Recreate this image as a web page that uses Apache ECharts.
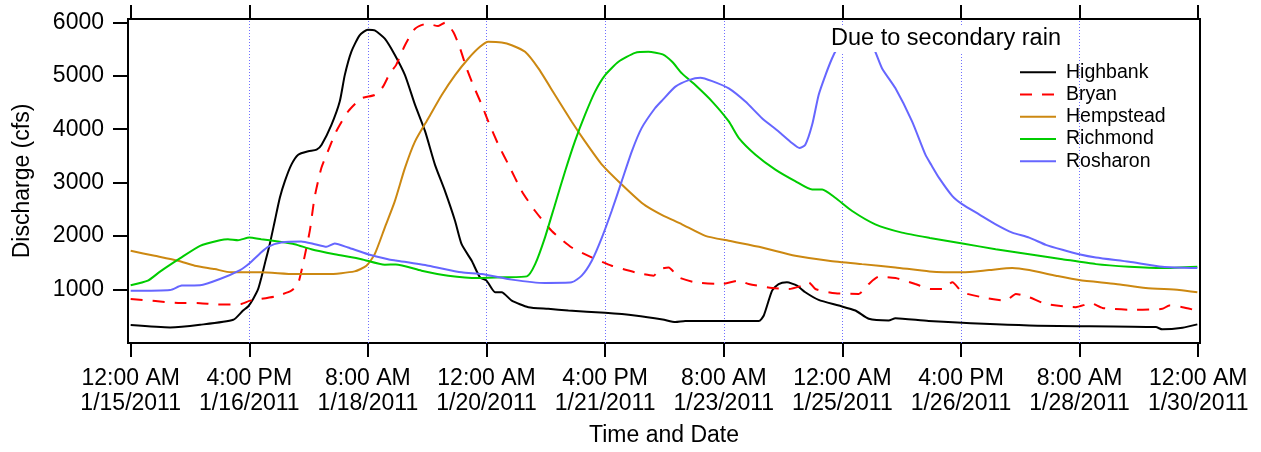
<!DOCTYPE html>
<html>
<head>
<meta charset="utf-8">
<script src="https://cdn.jsdelivr.net/npm/echarts@6/dist/echarts.min.js"></script>
<style>
  html, body { margin: 0; padding: 0; background: #fff; }
  #chart { width: 1261px; height: 452px; }
</style>
</head>
<body>
<div id="chart"></div>
<script>
// Time is measured in hours after 12:00 AM 1/15/2011; discharge in cfs.
const tickHours = [0, 40, 80, 120, 160, 200, 240, 280, 320, 360];
const tickLabels = [
  '12:00 AM\n1/15/2011', '4:00 PM\n1/16/2011', '8:00 AM\n1/18/2011',
  '12:00 AM\n1/20/2011', '4:00 PM\n1/21/2011', '8:00 AM\n1/23/2011',
  '12:00 AM\n1/25/2011', '4:00 PM\n1/26/2011', '8:00 AM\n1/28/2011',
  '12:00 AM\n1/30/2011'
];
const gridHours = [40, 80, 120, 160, 200, 240, 280, 320];
const yTicks = [1000, 2000, 3000, 4000, 5000, 6000];

const highbankHours = [0, 13.3, 23.4, 34.6, 37.9, 39.6, 41.3, 43, 44.1, 45.2, 46.9, 48.6, 50.3, 52, 54.2, 56.5, 59.9, 62.7, 64.4, 67.7, 70.5, 72.2, 74.4, 77.2, 80, 82.3, 85.7, 89, 92.5, 95.9, 99.3, 102.6, 106, 109.4, 111.6, 115, 117.8, 120, 122.9, 125.1, 128.5, 134.1, 140.8, 147.6, 160, 170, 179.4, 183.7, 187, 199.4, 211.8, 213.5, 216.3, 218.5, 221.3, 224.7, 227.5, 232, 238.8, 244.4, 248.9, 255.6, 257.9, 269.1, 303, 345.7, 347.9, 354.7, 359.7];
const highbankFlow = [335, 292, 341, 434, 608, 683, 825, 1011, 1229, 1476, 1849, 2284, 2718, 3029, 3338, 3524, 3587, 3617, 3710, 4082, 4518, 5013, 5449, 5758, 5864, 5851, 5696, 5400, 5013, 4455, 3959, 3338, 2842, 2284, 1849, 1539, 1229, 1167, 949, 949, 794, 670, 639, 608, 565, 515, 440, 391, 410, 410, 410, 515, 980, 1104, 1135, 1073, 949, 806, 701, 608, 453, 422, 465, 410, 329, 298, 255, 285, 348];

const bryanHours = [0, 16, 23.4, 29.4, 37.3, 40, 41.8, 48.6, 54.2, 56.4, 58.1, 60.4, 62, 64.3, 66.5, 69.3, 73.3, 77.8, 82.3, 85.1, 87.4, 89.5, 92.5, 95.9, 99.8, 103.7, 106, 108.8, 111.1, 113.3, 115.5, 118.4, 120.6, 124, 127.4, 131.9, 136.4, 142, 148.7, 155.5, 162.2, 170.1, 176.3, 178.5, 181.4, 184.8, 190.4, 199.4, 205.1, 208.4, 216.3, 221.9, 226.4, 228.7, 230.9, 237.6, 245.5, 248.9, 252.3, 257.9, 264.6, 269.7, 273.7, 277.1, 280.5, 287.2, 295.1, 298.5, 303, 308.6, 318.7, 323.8, 327.7, 339, 347.9, 350.2, 354.7, 358.6];
const bryanFlow = [825, 750, 745, 720, 732, 788, 806, 868, 980, 1104, 1476, 2097, 2718, 3276, 3587, 3959, 4332, 4579, 4641, 4797, 5045, 5200, 5572, 5882, 5975, 5932, 5994, 5820, 5510, 5138, 4827, 4455, 4146, 3710, 3338, 2842, 2470, 2097, 1787, 1601, 1446, 1322, 1260, 1383, 1415, 1229, 1135, 1104, 1167, 1104, 1029, 1011, 1073, 1135, 1011, 931, 918, 1104, 1241, 1216, 1104, 1011, 1011, 1135, 949, 856, 794, 918, 856, 732, 670, 745, 657, 620, 639, 701, 670, 620];

const hempsteadHours = [0, 8.1, 16, 21.6, 28.3, 33.9, 44, 55.3, 66.5, 75.5, 79.5, 82.3, 85.7, 89, 92.5, 95.9, 100.4, 104.9, 109.4, 113.9, 117.8, 120.6, 125.1, 128.5, 133, 137.5, 143.1, 148.7, 153.2, 158.9, 165.6, 172.3, 175.7, 179.4, 185.9, 193.8, 201.7, 212.9, 224.1, 235.4, 246.6, 257.9, 269.4, 280.5, 289.5, 297.3, 303, 312, 319.8, 332.2, 342.3, 353.6, 359.7];
const hempsteadFlow = [1725, 1632, 1539, 1446, 1383, 1322, 1322, 1290, 1290, 1340, 1446, 1662, 2159, 2640, 3276, 3773, 4207, 4641, 5013, 5324, 5542, 5635, 5622, 5572, 5449, 5138, 4641, 4146, 3773, 3338, 2965, 2625, 2500, 2390, 2221, 2005, 1912, 1787, 1632, 1539, 1476, 1415, 1340, 1322, 1364, 1402, 1364, 1260, 1178, 1104, 1029, 992, 949];

const richmondHours = [0, 5.8, 9.9, 16.6, 23.4, 30.1, 32.8, 36.2, 40, 44, 49.7, 55.3, 60.9, 68.8, 77.8, 85.7, 89.4, 98.1, 107.1, 117.2, 126.2, 133.6, 136.4, 139.7, 143.1, 146.5, 149.8, 153.2, 156.6, 160, 164.5, 170.1, 174.6, 179.4, 182.6, 185.9, 190.4, 196.1, 201.7, 205.1, 210.7, 217.4, 224.1, 229.8, 233.2, 237.6, 243.3, 251.1, 260.1, 269.5, 280.5, 291.7, 303, 314.2, 325.5, 336.7, 347.9, 359.7];
const richmondFlow = [1080, 1167, 1335, 1582, 1818, 1923, 1942, 1923, 1973, 1942, 1899, 1849, 1755, 1662, 1569, 1465, 1470, 1353, 1260, 1216, 1229, 1247, 1476, 1973, 2593, 3214, 3773, 4268, 4704, 5013, 5262, 5430, 5449, 5400, 5262, 5045, 4827, 4518, 4146, 3835, 3524, 3245, 3029, 2872, 2872, 2718, 2470, 2221, 2066, 1966, 1862, 1755, 1662, 1569, 1476, 1428, 1402, 1428];

const rosharonHours = [0, 13.3, 17.2, 23.4, 30.1, 36.9, 40, 43.6, 46.3, 50.8, 57.5, 62.1, 66, 68.8, 73.3, 80, 86.8, 89.4, 100.4, 111.6, 118.4, 128.5, 139.7, 148.7, 152.1, 155.5, 158.9, 162.2, 165.6, 169, 172.3, 176.8, 179.4, 183.7, 188.2, 192.1, 196.1, 201.7, 207.3, 212.9, 218.5, 223, 225.5, 227.5, 229.8, 232, 234.3, 236.5, 238.2, 241, 244, 247, 250.6, 253.4, 257.9, 263.5, 268, 270, 272.6, 277.1, 280.5, 286.1, 291.7, 297.3, 303, 308.6, 314.2, 319.8, 325.5, 336.7, 347.9, 359.7];
const rosharonFlow = [978, 992, 1074, 1080, 1197, 1365, 1489, 1675, 1800, 1880, 1899, 1849, 1800, 1862, 1787, 1662, 1569, 1545, 1446, 1322, 1290, 1186, 1123, 1135, 1260, 1539, 1973, 2470, 3029, 3587, 4021, 4393, 4550, 4797, 4920, 4965, 4901, 4765, 4518, 4207, 3959, 3742, 3649, 3710, 4082, 4641, 5013, 5324, 5510, 5750, 5850, 5780, 5510, 5138, 4765, 4146, 3524, 3330, 3090, 2749, 2593, 2407, 2221, 2066, 1973, 1837, 1744, 1662, 1601, 1521, 1428, 1402];

const FONT = '"Liberation Sans", Arial, Helvetica, sans-serif';
const pairs = (hs, vs) => hs.map((h, i) => [h, vs[i]]);

function lineSeries(name, hours, flow, color, dash) {
  return {
    name: name,
    type: 'line',
    data: pairs(hours, flow),
    showSymbol: false,
    symbol: 'none',
    smooth: 0.2,
    lineStyle: { color: color, width: 2, type: dash || 'solid' },
    itemStyle: { color: color }
  };
}

const series = [
  lineSeries('Highbank', highbankHours, highbankFlow, '#000000'),
  lineSeries('Bryan', bryanHours, bryanFlow, '#ff0000', [12, 10]),
  lineSeries('Hempstead', hempsteadHours, hempsteadFlow, '#cc8811'),
  lineSeries('Richmond', richmondHours, richmondFlow, '#00cc00'),
  lineSeries('Rosharon', rosharonHours, rosharonFlow, '#6666ff')
];

// dotted vertical guides at the interior date ticks
series[0].markLine = {
  silent: true,
  z: 1,
  symbol: ['none', 'none'],
  label: { show: false },
  lineStyle: { color: '#6f6fff', width: 1, type: [1, 2] },
  emphasis: { disabled: true },
  data: gridHours.map(h => ({ xAxis: h }))
};

const chart = echarts.init(document.getElementById('chart'), null, { renderer: 'canvas' });
chart.setOption({
  animation: false,
  backgroundColor: '#ffffff',
  textStyle: { fontFamily: FONT },
  grid: {
    left: 128, right: 61, top: 19, bottom: 107,
    show: true, borderColor: '#000', borderWidth: 2, backgroundColor: 'transparent'
  },
  xAxis: [{
    type: 'value',
    position: 'bottom',
    min: -0.9, max: 360.6,
    name: 'Time and Date',
    nameLocation: 'middle',
    nameGap: 81,
    nameTextStyle: { fontSize: 23, color: '#000', fontFamily: FONT },
    axisLine: { show: true, onZero: false, lineStyle: { color: '#000', width: 2 } },
    axisTick: { show: true, customValues: tickHours, length: 14, lineStyle: { color: '#000', width: 2 } },
    axisLabel: {
      customValues: tickHours,
      margin: 23,
      fontSize: 23,
      lineHeight: 25.4,
      color: '#000',
      fontFamily: FONT,
      formatter: v => tickLabels[tickHours.indexOf(v)] || ''
    },
    splitLine: { show: false }
  }, {
    type: 'value',
    position: 'top',
    min: -0.9, max: 360.6,
    axisLine: { show: true, onZero: false, lineStyle: { color: '#000', width: 2 } },
    axisTick: { show: true, customValues: tickHours, length: 14, lineStyle: { color: '#000', width: 2 } },
    axisLabel: { show: false },
    splitLine: { show: false }
  }],
  yAxis: {
    type: 'value',
    min: 0, max: 6063,
    name: 'Discharge (cfs)',
    nameLocation: 'middle',
    nameGap: 94,
    nameTextStyle: { fontSize: 23, color: '#000', fontFamily: FONT },
    axisLine: { show: true, onZero: false, lineStyle: { color: '#000', width: 2 } },
    axisTick: { show: true, customValues: yTicks, length: 15, lineStyle: { color: '#000', width: 2 } },
    axisLabel: {
      customValues: yTicks, margin: 24, fontSize: 23, color: '#000', fontFamily: FONT,
      formatter: v => String(v)
    },
    splitLine: { show: false }
  },
  legend: {
    orient: 'vertical',
    left: 1019,
    top: 61,
    padding: 0,
    itemGap: 0,
    itemWidth: 36,
    itemHeight: 14,
    itemStyle: { color: 'transparent', borderColor: 'transparent', borderWidth: 0, opacity: 0 },
    textStyle: { fontSize: 19.5, lineHeight: 22.3, color: '#000', fontFamily: FONT, padding: [0, 0, 0, 5] },
    data: ['Highbank', 'Bryan', 'Hempstead', 'Richmond', 'Rosharon']
  },
  graphic: [{
    type: 'text',
    z: 100,
    x: 946,
    y: 39,
    style: {
      text: 'Due to secondary rain',
      fontSize: 23.5,
      fontFamily: FONT,
      fill: '#000',
      align: 'center',
      verticalAlign: 'middle',
      backgroundColor: '#ffffff',
      padding: [1, 4]
    }
  }],
  series: series
});
</script>
</body>
</html>
